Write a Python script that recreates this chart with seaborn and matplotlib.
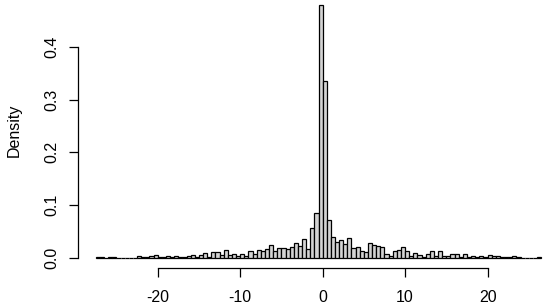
import numpy as np
import pandas as pd
import matplotlib
matplotlib.use("Agg")
import matplotlib.pyplot as plt
import seaborn as sns

# bin left edges (width 0.5) and densities
bin_start = -27.5
bin_width = 0.5
density = [
    0.001, 0.001, 0.0, 0.001, 0.001, 0.0, 0.0, 0.0, 0.0, 0.0,        # -27.5 .. -23.0
    0.003, 0.001, 0.001, 0.003, 0.006, 0.001, 0.001, 0.003, 0.001, 0.003,  # -22.5 .. -18.0
    0.001, 0.001, 0.003, 0.006, 0.002, 0.006, 0.008, 0.002, 0.010, 0.010,  # -17.5 .. -13.0
    0.006, 0.014, 0.006, 0.0076, 0.004, 0.0076, 0.004, 0.012, 0.007, 0.015,  # -12.5 .. -8.0
    0.012, 0.017, 0.025, 0.013, 0.019, 0.019, 0.017, 0.021, 0.028, 0.023,  # -7.5 .. -3.0
    0.035, 0.017, 0.056, 0.085, 0.480, 0.335, 0.072, 0.040, 0.029, 0.034,  # -2.5 .. 2.0
    0.026, 0.037, 0.018, 0.021, 0.013, 0.011, 0.028, 0.024, 0.022, 0.021,  # 2.5 .. 7.0
    0.007, 0.003, 0.012, 0.015, 0.021, 0.013, 0.004, 0.0095, 0.0057, 0.002,  # 7.5 .. 12.0
    0.0076, 0.013, 0.004, 0.012, 0.004, 0.004, 0.007, 0.007, 0.001, 0.007,  # 12.5 .. 17.0
    0.002, 0.003, 0.002, 0.003, 0.001, 0.005, 0.003, 0.003, 0.002, 0.0005,  # 17.5 .. 22.0
    0.002, 0.003, 0.0005, 0.0, 0.0, 0.0, 0.0, 0.0015,                      # 22.5 .. 26.0
]
x_ticks = [-20, -10, 0, 10, 20]
y_ticks = [0.0, 0.1, 0.2, 0.3, 0.4]
y_ticklabels = ["0.0", "0.1", "0.2", "0.3", "0.4"]

n = len(density)
lo = bin_start
hi = bin_start + bin_width * n
centers = lo + bin_width * np.arange(n) + bin_width / 2
df = pd.DataFrame({"value": centers, "density": density})

sns.set_style("white")
plt.rcParams["font.family"] = ["Liberation Sans", "DejaVu Sans"]

W, H = 548, 305
FS = 11.5
fig = plt.figure(figsize=(W / 100, H / 100), dpi=100)
# plot region in pixels: left 78, right 559, top -5.4, bottom 267.8
left, right, top, bottom = 78, 559, -5.4, 267.8
ax = fig.add_axes([left / W, (H - bottom) / H, (right - left) / W, (bottom - top) / H])

sns.histplot(data=df, x="value", weights="density", binwidth=bin_width,
             binrange=(lo, hi), stat="count",
             color="#D3D3D3", edgecolor="black", linewidth=0.9, alpha=1.0, ax=ax)

pad_x = 0.04 * (hi - lo)
ax.set_xlim(lo - pad_x, hi + pad_x)
ymax = max(density)
ax.set_ylim(-0.04 * ymax, ymax * 1.04)

ax.set_xticks(x_ticks)
ax.set_xticklabels([str(t) for t in x_ticks])
ax.set_yticks(y_ticks)
ax.set_yticklabels(y_ticklabels, rotation=90, va="center")
ax.set_xlabel("")
ax.set_ylabel("")

for s in ["top", "right"]:
    ax.spines[s].set_visible(False)
ax.spines["bottom"].set_bounds(x_ticks[0], x_ticks[-1])
ax.spines["left"].set_bounds(y_ticks[0], y_ticks[-1])
for s in ["bottom", "left"]:
    ax.spines[s].set_color("black")
    ax.spines[s].set_linewidth(0.9)

ax.tick_params(axis="both", direction="out", length=6.7, width=0.9, color="black",
               labelsize=FS, labelcolor="black", bottom=True, left=True)
ax.tick_params(axis="x", pad=9.2)
ax.tick_params(axis="y", pad=6.6)

fig.text(19 / W, (H - 130) / H, "Density", rotation=90, rotation_mode="anchor",
         ha="center", va="baseline", fontsize=FS, color="black")

fig.savefig("out.png", dpi=100)
